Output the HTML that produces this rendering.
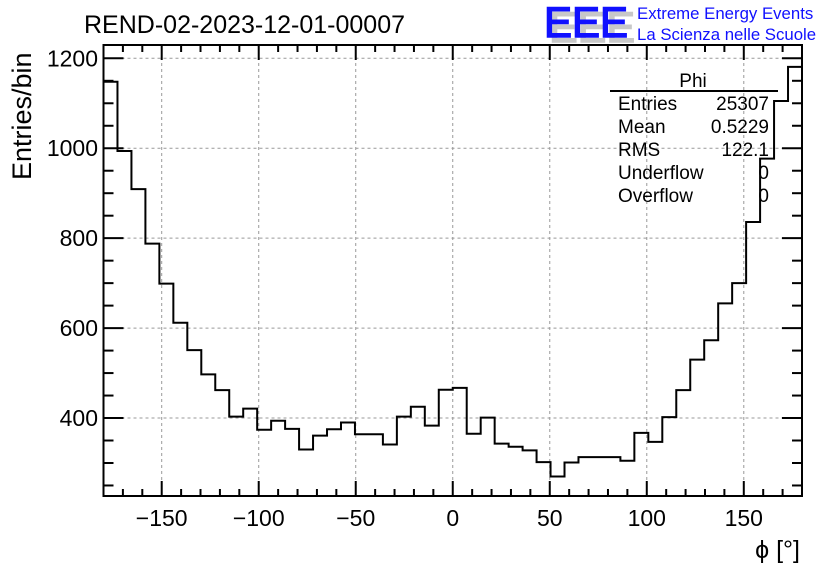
<!DOCTYPE html>
<html><head><meta charset="utf-8"><style>
html,body{margin:0;padding:0;background:#fff;}
svg{display:block;font-family:"Liberation Sans",sans-serif;}
</style></head><body>
<svg id="chart" width="836" height="572" viewBox="0 0 836 572" xmlns="http://www.w3.org/2000/svg">
<rect width="836" height="572" fill="#fff"/>
<g id="grid"></g>
<g id="hist"></g>
<g id="axes"></g>
<text x="84" y="33" font-size="25">REND-02-2023-12-01-00007</text>
<g>
<text x="549" y="42" font-size="43" fill="#c8c8c8" stroke="#c8c8c8" stroke-width="1.5" textLength="86" lengthAdjust="spacingAndGlyphs">EEE</text>
<text x="544" y="37" font-size="43" fill="#1010ff" stroke="#1010ff" stroke-width="1.5" textLength="84" lengthAdjust="spacingAndGlyphs">EEE</text>
<text x="637" y="19" font-size="16.8" fill="#1010ff">Extreme Energy Events</text>
<text x="637" y="40" font-size="16.8" fill="#1010ff">La Scienza nelle Scuole</text>
</g>
<text transform="translate(31,180) rotate(-90)" font-size="27">Entries/bin</text>
<text x="800" y="558" font-size="25" text-anchor="end">ϕ [°]</text>
<g font-size="19">
<text x="693" y="87" text-anchor="middle">Phi</text>
<line x1="610" y1="91" x2="778" y2="91" stroke="#000" stroke-width="2"/>
<text x="618" y="110">Entries</text><text x="769" y="110" text-anchor="end">25307</text>
<text x="618" y="133">Mean</text><text x="769" y="133" text-anchor="end">0.5229</text>
<text x="618" y="156">RMS</text><text x="769" y="156" text-anchor="end">122.1</text>
<text x="618" y="179">Underflow</text><text x="769" y="179" text-anchor="end">0</text>
<text x="618" y="202">Overflow</text><text x="769" y="202" text-anchor="end">0</text>
</g>
</svg>
<script>
const binCounts = [1148,994,909,788,699,612,551,497,462,403,421,374,394,376,330,361,375,390,364,364,341,403,425,383,463,467,365,401,343,336,328,302,270,301,313,313,313,305,367,347,402,462,530,573,655,700,836,977,1105,1181];
const xTickLabels = [-150,-100,-50,0,50,100,150];
const yTickLabels = [400,600,800,1000,1200];
const xMin=-180,xMax=180,yMin=226.6,yMax=1229.6;
const L=103.5,R=802,T=45,B=496;
const NS="http://www.w3.org/2000/svg";
function sx(v){return L+(v-xMin)/(xMax-xMin)*(R-L);}
function sy(v){return B-(v-yMin)/(yMax-yMin)*(B-T);}
function mk(tag,attrs,parent){const e=document.createElementNS(NS,tag);for(const k in attrs)e.setAttribute(k,attrs[k]);parent.appendChild(e);return e;}
const grid=document.getElementById('grid'),hist=document.getElementById('hist'),axes=document.getElementById('axes');
xTickLabels.forEach(v=>{const l=mk('line',{x1:sx(v),x2:sx(v),y1:T,y2:B,stroke:'#999','stroke-dasharray':'3,3','stroke-width':1},grid);

});
yTickLabels.forEach(v=>{const l=mk('line',{x1:L,x2:R,y1:sy(v),y2:sy(v),stroke:'#999','stroke-dasharray':'3,3','stroke-width':1},grid);

});
const n=binCounts.length,w=(xMax-xMin)/n;
let d='M'+sx(xMin)+','+sy(binCounts[0]);
binCounts.forEach((c,i)=>{d+=' L'+sx(xMin+i*w)+','+sy(c)+' L'+sx(xMin+(i+1)*w)+','+sy(c);});
const p=mk('path',{d:d,fill:'none',stroke:'#000','stroke-width':2},hist);


const f=mk('rect',{x:L,y:T,width:R-L,height:B-T,fill:'none',stroke:'#000','stroke-width':2},axes);


for(let v=-180;v<=180;v+=10){const maj=(v%50===0);const len=maj?15:7;
mk('line',{x1:sx(v),x2:sx(v),y1:B,y2:B-len,stroke:'#000','stroke-width':2},axes);
mk('line',{x1:sx(v),x2:sx(v),y1:T,y2:T+len,stroke:'#000','stroke-width':2},axes);}
xTickLabels.forEach(v=>{const t=mk('text',{x:sx(v),y:526,'font-size':23,'text-anchor':'middle'},axes);t.textContent=(v<0?'\u2212'+(-v):v);

});
for(let v=250;v<=1200;v+=50){const maj=(v%200===0);const len=maj?20:10;
mk('line',{x1:L,x2:L+len,y1:sy(v),y2:sy(v),stroke:'#000','stroke-width':2},axes);
mk('line',{x1:R,x2:R-len,y1:sy(v),y2:sy(v),stroke:'#000','stroke-width':2},axes);}
yTickLabels.forEach(v=>{const t=mk('text',{x:98,y:sy(v)+8,'font-size':23,'text-anchor':'end'},axes);t.textContent=v;

});
</script>
</body></html>
